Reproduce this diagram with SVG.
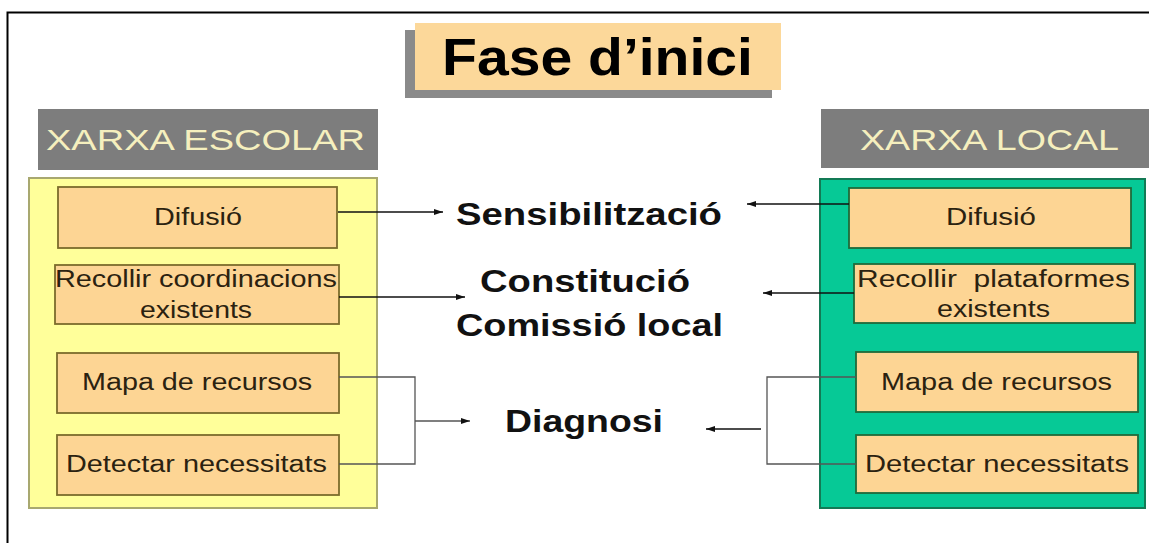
<svg xmlns="http://www.w3.org/2000/svg" width="1149" height="543" viewBox="0 0 1149 543">
<defs>
<style>
.box{fill:#fdd594;stroke:#7c6c2c;stroke-width:1.8}
.rbox{fill:#fdd594;stroke:#1f6a3a;stroke-width:1.8}
.bt{font-family:"Liberation Sans",Arial,sans-serif;font-size:23.5px;fill:#2b2210}
.hd{fill:#7d7d7d}
.ht{font-family:"Liberation Sans",Arial,sans-serif;font-size:30px;fill:#f5efbe}
.ct{font-family:"Liberation Sans",Arial,sans-serif;font-size:31px;font-weight:bold;fill:#111}
.ln{fill:none;stroke:#111;stroke-width:1.6}
.br{fill:none;stroke:#555;stroke-width:1.3}
</style>
<marker id="ah" markerUnits="userSpaceOnUse" markerWidth="10" markerHeight="8" refX="9" refY="4" orient="auto">
<path d="M0,1 L9,4 L0,7 Z" fill="#111"/>
</marker>
</defs>
<rect width="1149" height="543" fill="#fff"/>
<path d="M7.5,543 V12.5 H1149" fill="none" stroke="#000" stroke-width="2"/>

<g id="title">
<rect x="405" y="30" width="367" height="68" fill="#8a8a8a"/>
<rect x="415" y="23" width="366" height="67" fill="#fcd89a"/>
<text x="442" y="75" font-family="Liberation Sans,Arial,sans-serif" font-size="52" font-weight="bold" fill="#000" textLength="311" lengthAdjust="spacingAndGlyphs">Fase d’inici</text>
</g>

<g id="xarxa-escolar">
<rect class="hd" x="38" y="109" width="340" height="61"/>
<text class="ht" x="46" y="150" textLength="319" lengthAdjust="spacingAndGlyphs">XARXA ESCOLAR</text>
<rect x="29" y="178" width="348" height="330" fill="#ffff9a" stroke="#a8a870" stroke-width="2"/>
</g>

<g id="xarxa-local">
<rect class="hd" x="821" y="109" width="328" height="59"/>
<text class="ht" x="860" y="150" textLength="259" lengthAdjust="spacingAndGlyphs">XARXA LOCAL</text>
<rect x="820" y="179" width="325" height="329" fill="#06c996" stroke="#137a55" stroke-width="2"/>
</g>

<g id="l-difusio">
<rect class="box" x="58" y="187" width="279" height="61"/>
<text class="bt" x="154" y="225" textLength="88" lengthAdjust="spacingAndGlyphs">Difusió</text>
</g>
<g id="l-recollir">
<rect class="box" x="55" y="265" width="284" height="59"/>
<text class="bt" x="55" y="287" textLength="282" lengthAdjust="spacingAndGlyphs">Recollir coordinacions</text>
<text class="bt" x="140" y="318" textLength="112" lengthAdjust="spacingAndGlyphs">existents</text>
</g>
<g id="l-mapa">
<rect class="box" x="57" y="353" width="282" height="60"/>
<text class="bt" x="82" y="390" textLength="230" lengthAdjust="spacingAndGlyphs">Mapa de recursos</text>
</g>
<g id="l-detectar">
<rect class="box" x="57" y="435" width="282" height="60"/>
<text class="bt" x="66" y="472" textLength="261" lengthAdjust="spacingAndGlyphs">Detectar necessitats</text>
</g>

<g id="r-difusio">
<rect class="rbox" x="849" y="188" width="282" height="60"/>
<text class="bt" x="946" y="225" textLength="90" lengthAdjust="spacingAndGlyphs">Difusió</text>
</g>
<g id="r-recollir">
<rect class="rbox" x="854" y="264" width="281" height="59"/>
<text class="bt" x="857" y="287" textLength="273" lengthAdjust="spacingAndGlyphs" style="white-space:pre">Recollir  plataformes</text>
<text class="bt" x="937" y="317" textLength="113" lengthAdjust="spacingAndGlyphs">existents</text>
</g>
<g id="r-mapa">
<rect class="rbox" x="856" y="352" width="282" height="60"/>
<text class="bt" x="881" y="390" textLength="231" lengthAdjust="spacingAndGlyphs">Mapa de recursos</text>
</g>
<g id="r-detectar">
<rect class="rbox" x="856" y="435" width="282" height="58"/>
<text class="bt" x="865" y="472" textLength="264" lengthAdjust="spacingAndGlyphs">Detectar necessitats</text>
</g>

<g id="sensibilitzacio">
<text class="ct" x="456" y="225" font-size="32" textLength="266" lengthAdjust="spacingAndGlyphs">Sensibilització</text>
</g>
<g id="constitucio">
<text class="ct" x="480" y="292" font-size="30" textLength="210" lengthAdjust="spacingAndGlyphs">Constitució</text>
<text class="ct" x="456" y="336" font-size="30" textLength="267" lengthAdjust="spacingAndGlyphs">Comissió local</text>
</g>
<g id="diagnosi">
<text class="ct" x="505" y="432" textLength="158" lengthAdjust="spacingAndGlyphs">Diagnosi</text>
</g>

<g id="connectors">
<line class="ln" x1="338" y1="212" x2="443" y2="212" marker-end="url(#ah)"/>
<line class="ln" x1="339" y1="297" x2="465" y2="297" marker-end="url(#ah)"/>
<path class="br" d="M339,377 H415 V464 H339"/>
<line class="br" x1="415" y1="421" x2="470" y2="421" marker-end="url(#ah)"/>
<line class="ln" x1="849" y1="204" x2="747" y2="204" marker-end="url(#ah)"/>
<line class="ln" x1="854" y1="293" x2="763" y2="293" marker-end="url(#ah)"/>
<path class="br" d="M856,377 H767 V464 H856"/>
<line class="ln" x1="761" y1="429" x2="706" y2="429" marker-end="url(#ah)"/>
</g>
</svg>
